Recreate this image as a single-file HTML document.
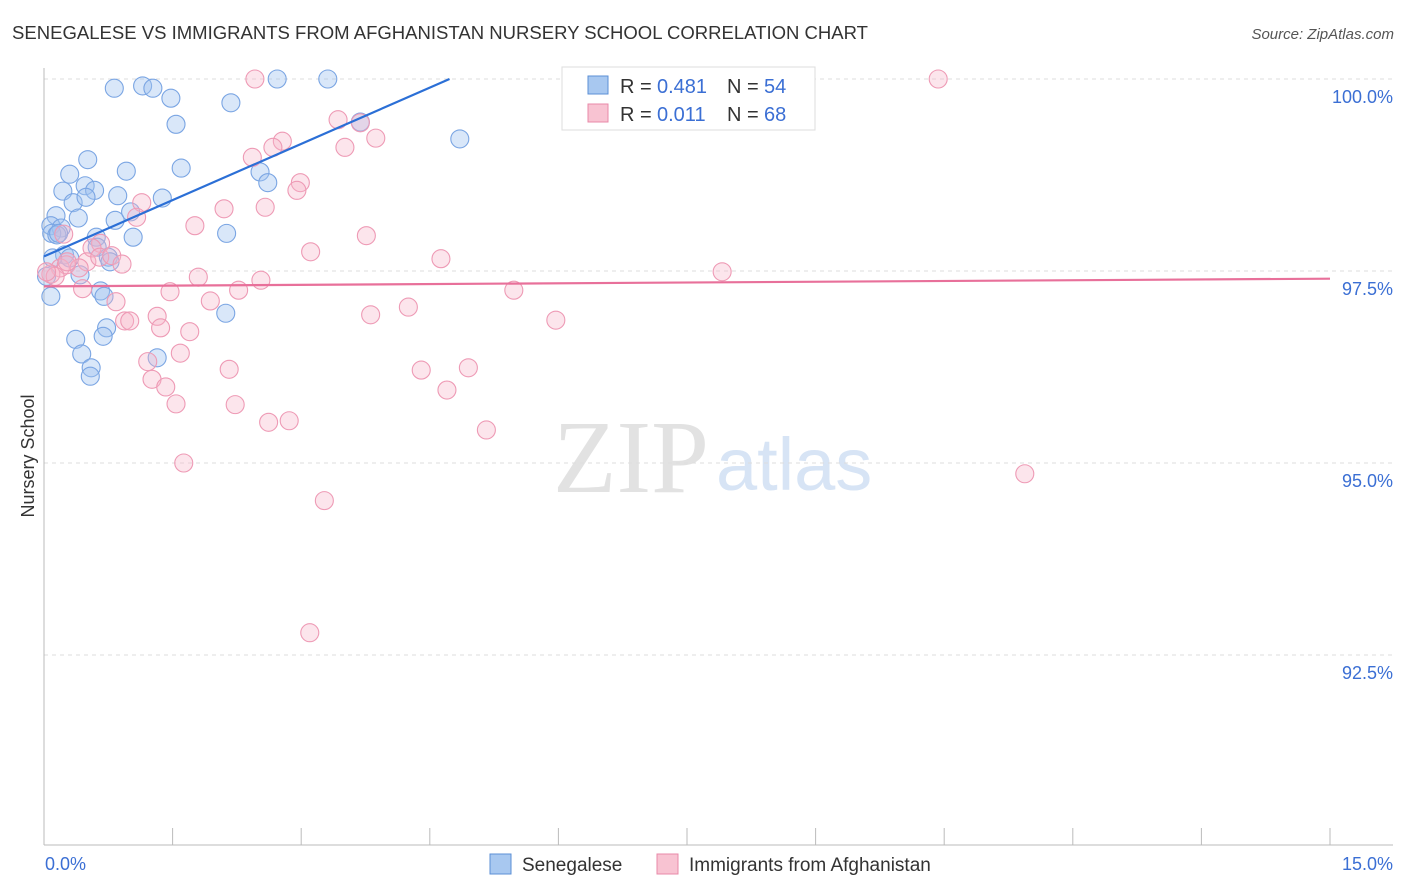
<!DOCTYPE html>
<html><head><meta charset="utf-8"><style>
body{margin:0;background:#fff;font-family:"Liberation Sans",sans-serif}
</style></head><body>
<svg id="chart" width="1406" height="892" xmlns="http://www.w3.org/2000/svg" style="display:block">
<text x="12" y="39" font-size="18" fill="#333" textLength="856" lengthAdjust="spacingAndGlyphs">SENEGALESE VS IMMIGRANTS FROM AFGHANISTAN NURSERY SCHOOL CORRELATION CHART</text>
<text x="1394" y="39" font-size="15" fill="#555" font-style="italic" text-anchor="end">Source: ZipAtlas.com</text>
<g>
<text x="553" y="492" font-size="104" font-family="Liberation Serif, serif" fill="#e2e2e2">ZIP</text>
<text x="716" y="490" font-size="74" fill="#d7e4f5">atlas</text>
</g>
<g id="grid"></g>
<line x1="44" y1="68" x2="44" y2="845" stroke="#bbb"/>
<line x1="44" y1="845" x2="1393" y2="845" stroke="#bbb"/>
<g id="xticks"></g>
<text transform="translate(34,456) rotate(-90)" font-size="18" fill="#333" text-anchor="middle">Nursery School</text>
<text x="45" y="870" font-size="18" fill="#3b6fd4">0.0%</text>
<text x="1393" y="870" font-size="18" fill="#3b6fd4" text-anchor="end">15.0%</text>
<g id="pts"></g>
<g id="lines"></g>
<g>
<rect x="562" y="67" width="253" height="63" fill="#fff" stroke="#ddd"/>
<rect x="588" y="76" width="20" height="18" fill="#a8c8f0" stroke="#5b8fd6"/>
<rect x="588" y="104" width="20" height="18" fill="#f8c3d2" stroke="#e88aa8"/>
<text x="620" y="93" font-size="20" fill="#333">R =</text>
<text x="657" y="93" font-size="20" fill="#3b6fd4">0.481</text>
<text x="727" y="93" font-size="20" fill="#333">N =</text>
<text x="764" y="93" font-size="20" fill="#3b6fd4">54</text>
<text x="620" y="121" font-size="20" fill="#333">R =</text>
<text x="657" y="121" font-size="20" fill="#3b6fd4">0.011</text>
<text x="727" y="121" font-size="20" fill="#333">N =</text>
<text x="764" y="121" font-size="20" fill="#3b6fd4">68</text>
</g>
<g>
<rect x="490" y="854" width="21" height="20" fill="#a8c8f0" stroke="#5b8fd6"/>
<text x="522" y="871" font-size="19" fill="#333">Senegalese</text>
<rect x="657" y="854" width="21" height="20" fill="#f8c3d2" stroke="#e88aa8"/>
<text x="689" y="871" font-size="19" fill="#333">Immigrants from Afghanistan</text>
</g>
</svg>
<script>
const yTicks=[100,97.5,95,92.5];
const yTickLabels=["100.0%","97.5%","95.0%","92.5%"];
const blueX=[0.82,1.15,1.27,1.48,2.18,2.72,3.31,1.54,4.85,0.51,0.96,0.30,1.60,0.22,0.48,0.59,0.86,1.38,0.34,0.49,0.14,0.40,0.83,1.01,0.08,0.20,2.52,2.61,3.69,2.13,1.04,0.09,0.15,0.61,0.62,0.24,0.30,0.75,0.77,0.10,0.03,0.42,0.66,0.70,0.08,2.12,0.73,0.69,0.37,0.44,0.55,0.54,1.32,0.17];
const blueY=[99.88,99.91,99.88,99.75,99.69,100,100,99.41,99.22,98.95,98.80,98.76,98.84,98.54,98.61,98.55,98.48,98.45,98.39,98.46,98.22,98.19,98.16,98.27,98.09,98.06,98.79,98.65,99.44,97.99,97.94,97.99,97.97,97.94,97.81,97.71,97.67,97.68,97.62,97.67,97.43,97.45,97.24,97.17,97.17,96.95,96.76,96.65,96.61,96.42,96.24,96.13,96.37,97.99];
const pinkX=[2.46,6.87,10.43,3.43,3.69,3.87,2.78,3.51,2.43,2.67,2.99,2.95,1.14,1.08,2.10,2.58,1.76,3.76,3.11,0.23,0.66,0.56,0.50,0.19,0.26,0.65,0.79,0.91,0.41,0.08,0.13,0.03,1.80,2.53,4.63,7.91,1.47,0.45,2.27,5.48,1.94,0.84,4.25,5.97,0.94,1.00,1.32,1.36,1.70,3.81,1.59,1.21,1.26,2.16,4.40,4.95,1.42,4.70,1.54,2.23,2.62,2.86,5.16,1.63,11.44,3.27,3.10,0.27];
const pinkY=[100,100,100,99.47,99.43,99.23,99.19,99.11,98.98,99.11,98.65,98.55,98.39,98.20,98.31,98.33,98.09,97.96,97.75,97.98,97.86,97.80,97.62,97.54,97.58,97.68,97.70,97.59,97.54,97.46,97.43,97.49,97.42,97.38,97.66,97.49,97.23,97.27,97.25,97.25,97.11,97.10,97.03,96.86,96.85,96.85,96.91,96.76,96.71,96.93,96.43,96.32,96.09,96.22,96.21,96.24,95.99,95.95,95.77,95.76,95.53,95.55,95.43,95.00,94.86,94.51,92.79,97.62];
const blueLine=[[0,97.69],[4.73,100]];
const pinkLine=[[0,97.30],[15,97.40]];
const NS="http://www.w3.org/2000/svg";
const sx=v=>44+v*(1286/15);
const sy=v=>79+(100-v)*76.8;
function mk(tag,attrs,parent){const e=document.createElementNS(NS,tag);for(const k in attrs)e.setAttribute(k,attrs[k]);parent.appendChild(e);return e;}
const grid=document.getElementById('grid');
yTicks.forEach((t,i)=>{
 const l=mk('line',{x1:44,x2:1393,y1:sy(t),y2:sy(t),stroke:'#ddd','stroke-dasharray':'4,4'},grid);
 
 
 const tx=mk('text',{x:1393,y:sy(t)+24,'font-size':18,fill:'#3b6fd4','text-anchor':'end'},grid);
 tx.textContent=yTickLabels[i];
 
 
});
const xt=document.getElementById('xticks');
for(let i=0;i<=10;i++){
 const l=mk('line',{x1:sx(i*1.5),x2:sx(i*1.5),y1:828,y2:845,stroke:'#bbb'},xt);
 
 
}
const pts=document.getElementById('pts');
blueX.forEach((x,i)=>{
 const c=mk('circle',{cx:sx(x),cy:sy(blueY[i]),r:9,fill:'rgba(160,196,240,0.4)',stroke:'#7aa5e3','stroke-width':1.1},pts);
 
 
});
pinkX.forEach((x,i)=>{
 const c=mk('circle',{cx:sx(x),cy:sy(pinkY[i]),r:9,fill:'rgba(246,180,200,0.35)',stroke:'#ee9ab5','stroke-width':1.1},pts);
 
 
});
const lg=document.getElementById('lines');
const b=mk('line',{x1:sx(blueLine[0][0]),y1:sy(blueLine[0][1]),x2:sx(blueLine[1][0]),y2:sy(blueLine[1][1]),stroke:'#2b6fd6','stroke-width':2.2},lg);


const p=mk('line',{x1:sx(pinkLine[0][0]),y1:sy(pinkLine[0][1]),x2:sx(pinkLine[1][0]),y2:sy(pinkLine[1][1]),stroke:'#e8709a','stroke-width':2.2},lg);


</script>
</body></html>
